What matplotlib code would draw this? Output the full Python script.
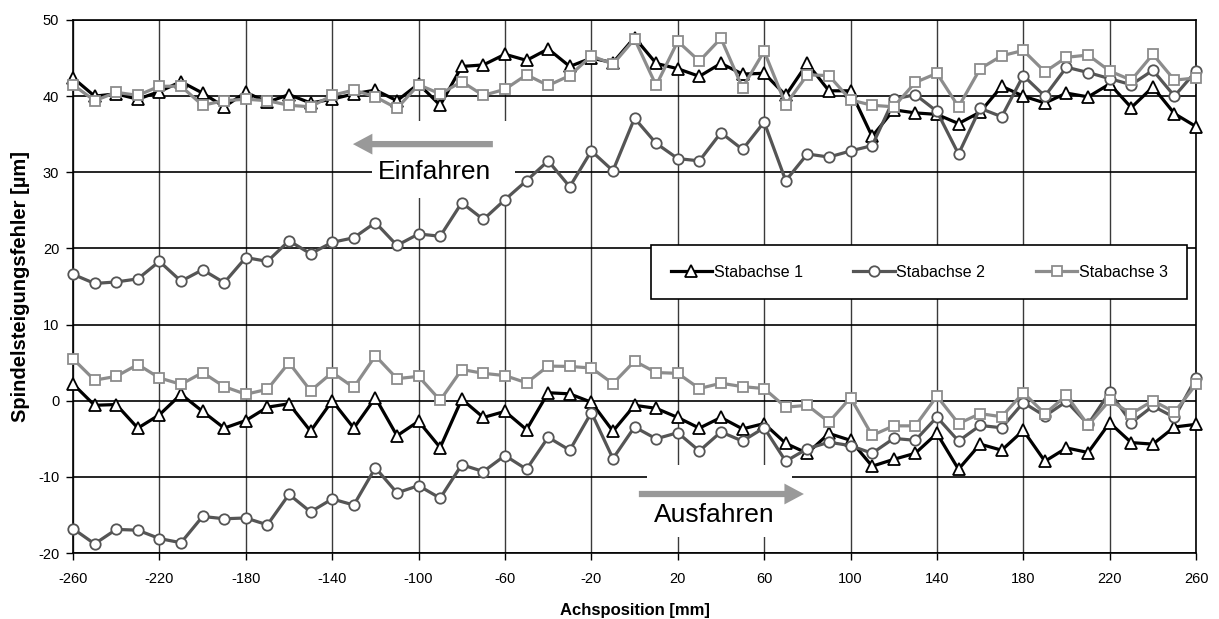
import matplotlib
matplotlib.use("Agg")
import matplotlib.pyplot as plt
from matplotlib.patches import Rectangle

plt.rcParams['font.family'] = ['Liberation Sans', 'DejaVu Sans']
plt.rcParams['axes.unicode_minus'] = False

# Axis positions [mm]
positions = list(range(-260, 261, 10))

# Spindle pitch error [µm], moving in (Einfahren)
einfahren_1 = [42.4, 40.0, 40.3, 39.6, 40.6, 41.9, 40.4, 38.6, 40.5, 39.2,
               40.2, 39.1, 39.6, 40.3, 40.8, 39.4, 41.6, 38.8, 43.9, 44.1,
               45.5, 44.7, 46.2, 43.9, 45.0, 44.4, 47.7, 44.3, 43.6, 42.6,
               44.3, 42.9, 43.0, 40.1, 44.3, 40.7, 40.7, 34.7, 38.2, 37.8,
               37.6, 36.4, 37.9, 41.3, 40.0, 39.1, 40.4, 39.9, 41.6, 38.5,
               41.2, 37.7, 36.0]
einfahren_2 = [16.6, 15.4, 15.6, 16.0, 18.3, 15.7, 17.2, 15.5, 18.8, 18.3,
               21.0, 19.3, 20.8, 21.4, 23.4, 20.4, 21.9, 21.6, 26.0, 23.8,
               26.4, 28.9, 31.5, 28.1, 32.8, 30.2, 37.1, 33.8, 31.8, 31.5,
               35.2, 33.0, 36.6, 28.9, 32.4, 32.0, 32.8, 33.5, 39.6, 40.2,
               38.0, 32.4, 38.4, 37.3, 42.7, 40.0, 43.8, 43.1, 42.3, 41.5,
               43.4, 40.0, 43.3]
einfahren_3 = [41.5, 39.4, 40.5, 40.1, 41.3, 41.3, 38.8, 39.4, 39.6, 39.4,
               38.8, 38.6, 40.1, 40.8, 39.9, 38.4, 41.5, 40.3, 41.9, 40.1,
               40.9, 42.8, 41.4, 42.7, 45.3, 44.2, 47.5, 41.4, 47.2, 44.6,
               47.6, 41.1, 45.9, 38.9, 42.8, 42.7, 39.5, 38.8, 38.6, 41.8,
               43.0, 38.6, 43.6, 45.3, 46.0, 43.2, 45.1, 45.4, 43.3, 42.1,
               45.5, 42.1, 42.4]

# Spindle pitch error [µm], moving out (Ausfahren)
ausfahren_1 = [2.2, -0.6, -0.5, -3.6, -1.85, 0.85, -1.4, -3.6, -2.6, -0.85,
               -0.4, -4.0, 0.0, -3.6, 0.4, -4.6, -2.7, -6.15, 0.2, -2.2,
               -1.4, -3.8, 1.05, 0.9, -0.2, -4.0, -0.6, -1.0, -2.2, -3.6,
               -2.2, -3.7, -3.0, -5.6, -6.9, -4.3, -5.2, -8.6, -7.7, -6.9,
               -4.3, -9.0, -5.7, -6.5, -3.9, -7.95, -6.2, -6.8, -2.9, -5.5,
               -5.7, -3.45, -3.1]
ausfahren_2 = [-16.8, -18.8, -16.9, -17.0, -18.1, -18.65, -15.2, -15.5, -15.4, -16.3,
               -12.3, -14.6, -12.9, -13.7, -8.8, -12.1, -11.15, -12.8, -8.4, -9.3,
               -7.2, -9.0, -4.8, -6.5, -1.55, -7.6, -3.45, -5.0, -4.2, -6.6,
               -4.1, -5.3, -3.55, -7.95, -6.3, -5.45, -5.9, -6.9, -4.95, -5.2,
               -2.15, -5.3, -3.25, -3.55, -0.25, -2.0, -0.1, -3.1, 1.15, -2.9,
               -0.7, -2.2, 3.0]
ausfahren_3 = [5.5, 2.7, 3.2, 4.75, 3.0, 2.15, 3.7, 1.85, 0.85, 1.5,
               5.0, 1.3, 3.7, 1.75, 5.9, 2.9, 3.2, 0.05, 4.1, 3.6,
               3.3, 2.35, 4.55, 4.5, 4.3, 2.25, 5.2, 3.7, 3.6, 1.6,
               2.3, 1.85, 1.6, -0.85, -0.6, -2.8, 0.4, -4.55, -3.3, -3.3,
               0.6, -3.0, -1.7, -2.1, 1.05, -1.7, 0.7, -3.2, 0.05, -1.7,
               0.0, -1.5, 2.15]

series_names = ["Stabachse 1", "Stabachse 2", "Stabachse 3"]
x_ticks = list(range(-260, 261, 40))
y_ticks = list(range(-20, 51, 10))

styles = [
    dict(color="#000000", marker="^", markersize=8.5, lw=2.3),
    dict(color="#555555", marker="o", markersize=7.5, lw=2.3),
    dict(color="#8c8c8c", marker="s", markersize=7.5, lw=2.3),
]

fig = plt.figure(figsize=(12.19, 6.19), dpi=100)
ax = fig.add_axes([0.0599, 0.1066, 0.9213, 0.8611])

ax.set_xlim(-260, 260)
ax.set_ylim(-20, 50)
ax.set_xticks(x_ticks)
ax.set_yticks(y_ticks)
ax.tick_params(axis='both', direction='out', length=5, width=1, labelsize=10.5,
               color='#000000')
ax.tick_params(axis='x', pad=9)
ax.tick_params(axis='y', pad=5)
ax.set_axisbelow(True)
ax.yaxis.grid(True, color='#000000', lw=1.2)
ax.xaxis.grid(True, color='#3a3a3a', lw=1.0)
for s in ax.spines.values():
    s.set_color('#000000')
    s.set_linewidth(1.2)

ax.set_xlabel("Achsposition [mm]", fontsize=12, fontweight='bold', labelpad=12)
ax.set_ylabel("Spindelsteigungsfehler [µm]", fontsize=14.5, fontweight='bold',
              labelpad=6)

# white text panels that mask the grid
ax.add_patch(Rectangle((-121.6, 26.6), 66.2, 10.1, facecolor='white',
                       edgecolor='none', zorder=1))
ax.add_patch(Rectangle((5.7, -17.9), 67.2, 9.45, facecolor='white',
                       edgecolor='none', zorder=1))

arrow_kw = dict(width=4.5, headwidth=15, headlength=14, color='#999999',
                shrink=0, lw=0)
ax.annotate("", xy=(-130.4, 33.7), xytext=(-65.6, 33.7),
            arrowprops=arrow_kw, zorder=3)
ax.annotate("", xy=(78.4, -12.25), xytext=(2.0, -12.25),
            arrowprops=arrow_kw, zorder=3)
ax.text(-92.4, 30.0, "Einfahren", fontsize=19, ha='center', va='center', zorder=3)
ax.text(36.8, -15.0, "Ausfahren", fontsize=19, ha='center', va='center', zorder=3)

groups = [(einfahren_1, ausfahren_1), (einfahren_2, ausfahren_2), (einfahren_3, ausfahren_3)]
handles = []
for name, (ein, aus), st in zip(series_names, groups, styles):
    for vals in (ein, aus):
        h, = ax.plot(positions, vals, color=st['color'], lw=st['lw'],
                     marker=st['marker'], markersize=st['markersize'],
                     markerfacecolor='white', markeredgecolor=st['color'],
                     markeredgewidth=1.3, clip_on=False, zorder=4)
    h.set_label(name)
    handles.append(h)

leg = ax.legend(handles=handles, ncol=3, loc='lower left',
                bbox_to_anchor=(0.515, 0.477, 0.477, 0.13), mode='expand',
                fontsize=11.5, frameon=True, fancybox=False, framealpha=1,
                edgecolor='#000000', handlelength=2.6, handletextpad=0.1,
                borderaxespad=0, borderpad=1.2)
leg.get_frame().set_linewidth(1.2)
leg.set_zorder(6)

fig.savefig("out.png", dpi=100)
